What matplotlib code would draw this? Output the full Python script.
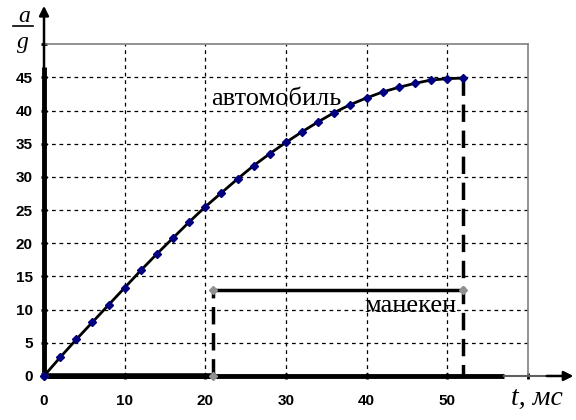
import numpy as np
import matplotlib
matplotlib.use("Agg")
from matplotlib import pyplot as plt

# автомобиль: a/g vs t (ms)
t_car = [0, 2, 4, 6, 8, 10, 12, 14, 16, 18, 20, 22, 24, 26, 28, 30,
         32, 34, 36, 38, 40, 42, 44, 46, 48, 50, 52]
a_car = [0, 2.8, 5.5, 8.1, 10.7, 13.3, 15.9, 18.4, 20.8, 23.2, 25.5, 27.6,
         29.7, 31.7, 33.5, 35.2, 36.8, 38.3, 39.7, 40.9, 41.9, 42.8, 43.5,
         44.1, 44.6, 44.8, 44.9]

# манекен: step profile
t_dummy = [0, 21, 21, 52]
a_dummy = [0, 0, 13, 13]

x_ticks = [0, 10, 20, 30, 40, 50, 60]
x_labels = ["0", "10", "20", "30", "40", "50", ""]
y_ticks = [0, 5, 10, 15, 20, 25, 30, 35, 40, 45, 50]
y_labels = ["0", "5", "10", "15", "20", "25", "30", "35", "40", "45", ""]

fig = plt.figure(figsize=(5.76, 4.2), dpi=100)
ax = fig.add_axes([0.0764, 0.1048, 0.840, 0.790])
ax.set_xlim(0, 60)
ax.set_ylim(0, 50)

for x in x_ticks[1:-1]:
    ax.axvline(x, color="black", lw=0.9, ls=(0, (3, 3)), zorder=1)
for y in y_ticks[1:-1]:
    ax.axhline(y, color="black", lw=0.9, ls=(0, (3, 3)), zorder=1)

for s in ["top", "right"]:
    ax.spines[s].set_color("#808080")
    ax.spines[s].set_linewidth(1.2)
ax.spines["left"].set_visible(False)
ax.spines["bottom"].set_visible(False)

# thick axes with arrows
ax.plot([0, 0], [0, 46.5], color="black", lw=3.5, clip_on=False, zorder=5,
        solid_capstyle="butt")
ax.plot([0, 57], [0, 0], color="black", lw=3.5, clip_on=False, zorder=5,
        solid_capstyle="butt")
ax.plot([57, 63], [0, 0], color="#606060", lw=1.5, clip_on=False, zorder=5)
ax.annotate("", xy=(0, 56.2), xytext=(0, 46), xycoords="data",
            arrowprops=dict(arrowstyle="-|>", color="black", lw=1.8,
                            mutation_scale=14), annotation_clip=False, zorder=6)
ax.annotate("", xy=(66, 0), xytext=(62, 0), xycoords="data",
            arrowprops=dict(arrowstyle="-|>", color="black", lw=1.8,
                            mutation_scale=14), annotation_clip=False, zorder=6)

# dummy
ax.plot(t_dummy[:2], a_dummy[:2], color="black", lw=4, zorder=4, clip_on=False)
ax.plot(t_dummy[1:3], a_dummy[1:3], color="black", lw=2.5, ls=(0, (5, 2.5)), zorder=4)
ax.plot(t_dummy[2:4], a_dummy[2:4], color="black", lw=2.5, zorder=4)
ax.plot(t_dummy, a_dummy, ls="none", marker="D", ms=4, color="#909090",
        zorder=6, clip_on=False)

# car (drop line shared with the dummy at t = 52)
ax.plot([t_car[-1], t_car[-1]], [a_car[-1], 0], color="black", lw=2.5,
        ls=(0, (5, 2.5)), zorder=4)
ax.plot(t_car, a_car, color="black", lw=2, marker="D", ms=4.5,
        mfc="#000080", mec="#000080", zorder=7, clip_on=False)

ax.set_xticks(x_ticks)
ax.set_xticklabels(x_labels)
ax.set_yticks(y_ticks)
ax.set_yticklabels(y_labels)
ax.tick_params(length=4, width=2, color="black", direction="inout")
ax.tick_params(axis="x", pad=11)
ax.tick_params(axis="y", pad=6)
for lab in ax.get_xticklabels() + ax.get_yticklabels():
    lab.set_fontfamily("Liberation Sans")
    lab.set_fontweight("bold")
    lab.set_fontsize(11)

ax.text(28.8, 40.8, "автомобиль", family="Liberation Serif", fontsize=19,
        ha="center", va="baseline", zorder=8)
ax.text(45.4, 9.6, "манекен", family="Liberation Serif", fontsize=19,
        ha="center", va="baseline", zorder=8)

# a/g fraction label of the vertical axis
fig.text(0.042, 0.9476, "a", fontsize=17, ha="center", va="baseline",
         family="Liberation Serif", style="italic")
fig.add_artist(plt.Line2D([0.023, 0.057], [0.937, 0.937], color="black",
                          lw=1.2, transform=fig.transFigure))
fig.text(0.040, 0.886, "g", fontsize=17, ha="center", va="baseline",
         family="Liberation Serif", style="italic")
fig.text(0.932, 0.052, "t, мс", fontsize=20, ha="center", va="center",
         family="Liberation Serif", style="italic")

fig.savefig("out.png", dpi=100)
